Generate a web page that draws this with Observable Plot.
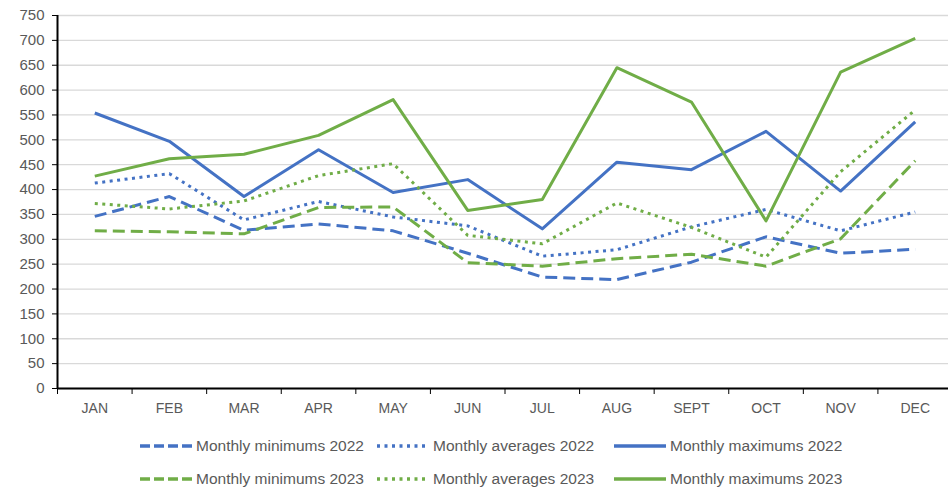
<!DOCTYPE html>
<html><head><meta charset="utf-8">
<script src="https://cdn.jsdelivr.net/npm/d3@7"></script>
<script src="https://cdn.jsdelivr.net/npm/@observablehq/plot@0.6"></script>
<style>
body{margin:0;background:#fff;font-family:"Liberation Sans",Arial,sans-serif;}
#chart svg{display:block;}
#legend{width:948px;padding-top:4px;}
.row{display:grid;grid-template-columns:237px 237px 237px;margin-left:140px;height:33px;align-items:center;}
.item{display:flex;align-items:center;font-size:15.5px;color:#595959;white-space:nowrap;}
.item svg{margin-right:4px;flex:none;}
</style></head><body>
<div id="chart"></div>
<div id="legend"></div>
<script>
const months = ["JAN","FEB","MAR","APR","MAY","JUN","JUL","AUG","SEPT","OCT","NOV","DEC"];
const yTicks = [0,50,100,150,200,250,300,350,400,450,500,550,600,650,700,750];

const min2022 = [346,386,318,331,317,272,224,219,254,305,272,280];
const avg2022 = [413,432,339,376,345,327,266,279,325,360,317,355];
const max2022 = [554,497,386,480,394,420,321,455,440,517,397,536];
const min2023 = [317,315,311,364,365,253,246,261,270,246,301,458];
const avg2023 = [372,361,377,428,452,308,291,373,324,264,436,560];
const max2023 = [427,462,471,509,581,358,380,645,576,337,636,704];

const seriesNames = ["Monthly minimums 2022","Monthly averages 2022","Monthly maximums 2022",
                     "Monthly minimums 2023","Monthly averages 2023","Monthly maximums 2023"];
const seriesValues = [min2022, avg2022, max2022, min2023, avg2023, max2023];

const BLUE = "#4472C4", GREEN = "#70AD47";
const styles = [
  {color: BLUE, dash: "12,6", legendDash: "10,4"},
  {color: BLUE, dash: "3,4.5", legendDash: "3,4.5"},
  {color: BLUE, dash: null, legendDash: null},
  {color: GREEN, dash: "12,6", legendDash: "10,4"},
  {color: GREEN, dash: "3,4.5", legendDash: "3,4.5"},
  {color: GREEN, dash: null, legendDash: null}
];

const rows = [];
seriesNames.forEach((s, k) => seriesValues[k].forEach((v, i) => rows.push({series: s, i, month: months[i], value: v})));

const lineMarks = seriesNames.map((s, k) => Plot.line(rows.filter(d => d.series === s), {
  x: d => d.i + 0.5, y: "value", stroke: styles[k].color, strokeWidth: 3,
  strokeDasharray: styles[k].dash || undefined, strokeLinejoin: "round", strokeLinecap: "butt"
}));

const chart = Plot.plot({
  width: 948, height: 425,
  marginTop: 15, marginBottom: 37, marginLeft: 57, marginRight: 0,
  style: {fontFamily: '"Liberation Sans", Arial, sans-serif', background: "#fff"},
  x: {domain: [0, 12], range: [57, 952]},
  y: {domain: [0, 750]},
  marks: [
    Plot.gridY(yTicks, {stroke: "#d9d9d9", strokeOpacity: 1, strokeWidth: 1.3}),
    ...lineMarks,
    Plot.ruleX([0], {y1: 0, y2: 750, stroke: "#000", strokeWidth: 2}),
    Plot.ruleY([0], {stroke: "#000", strokeWidth: 2}),
    Plot.axisY(yTicks, {tickSize: 5, tickPadding: 8, stroke: "#000", fill: "#595959", fontSize: 15, label: null}),
    Plot.axisX(d3.range(13), {tickSize: 6, tickFormat: () => "", stroke: "#000", label: null}),
    Plot.axisX(months.map((m, i) => i + 0.5), {tickSize: 0, tickPadding: 15, tickFormat: v => months[Math.round(v - 0.5)], fill: "#595959", fontSize: 14, label: null})
  ]
});
document.getElementById("chart").append(chart);

const legend = document.getElementById("legend");
for (let r = 0; r < 2; r++) {
  const row = document.createElement("div");
  row.className = "row";
  for (let c = 0; c < 3; c++) {
    const k = r * 3 + c;
    const item = document.createElement("div");
    item.className = "item";
    const dash = styles[k].legendDash ? `stroke-dasharray="${styles[k].legendDash}"` : "";
    item.innerHTML = `<svg width="52" height="10"><line x1="0" x2="52" y1="5" y2="5" stroke="${styles[k].color}" stroke-width="3.5" ${dash}/></svg><span>${seriesNames[k]}</span>`;
    row.append(item);
  }
  legend.append(row);
}
</script>
</body></html>
